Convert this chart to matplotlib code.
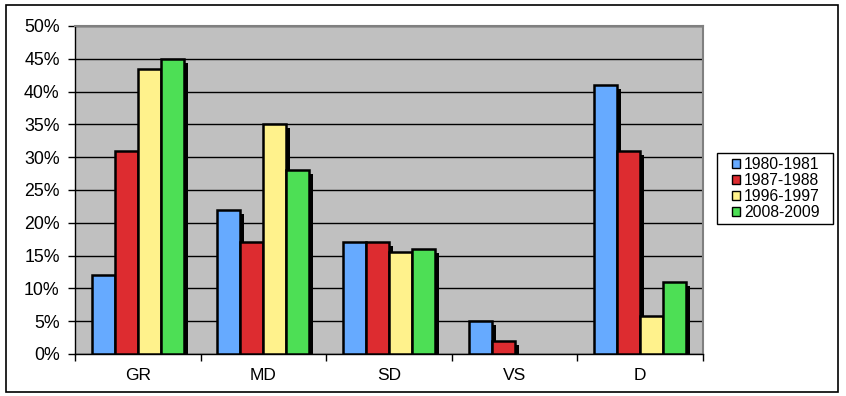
import matplotlib
matplotlib.use("Agg")
import matplotlib.pyplot as plt
from matplotlib.patches import Rectangle
import numpy as np

plt.rcParams['font.family'] = ['Liberation Sans', 'DejaVu Sans']

# data (percent)
categories = ['GR', 'MD', 'SD', 'VS', 'D']
periods = ['1980-1981', '1987-1988', '1996-1997', '2008-2009']
v_1980 = [12, 22, 17, 5, 41]
v_1987 = [31, 17, 17, 2, 31]
v_1996 = [43.5, 35, 15.5, 0, 5.8]
v_2008 = [45, 28, 16, 0, 11]
series = [v_1980, v_1987, v_1996, v_2008]
colors = ['#66aaff', '#dd2c30', '#fff28c', '#4ddf55']

fig = plt.figure(figsize=(8.46, 3.96), dpi=100)
ax = fig.add_axes([75/846, 42/396, 628/846, 328/396])
ax.set_facecolor('#c0c0c0')

x = np.arange(len(categories))
w = 0.183
dx, dy = 0.032, 0.6  # shadow offset

for k, (vals, col) in enumerate(zip(series, colors)):
    pos = x + (k - 1.5) * w
    for p, v in zip(pos, vals):
        if v <= 0:
            continue
        # drop shadow first, then the bar on top
        ax.bar(p + dx, max(v - dy, 0), width=w, color='black', zorder=2)
        ax.bar(p, v, width=w, color=col, edgecolor='black', linewidth=1.8, zorder=3)

ax.set_xlim(-0.5, len(categories) - 0.5)
ax.set_ylim(0, 50)
ax.set_yticks(np.arange(0, 51, 5))
ax.set_yticklabels([f'{t}%' for t in range(0, 51, 5)], fontsize=12.8)
ax.yaxis.grid(True, color='black', linewidth=1)
ax.set_axisbelow(True)

ax.set_xticks(x)
ax.set_xticklabels(categories, fontsize=12.5)
ax.set_xticks(np.arange(-0.5, len(categories), 1), minor=True)
ax.tick_params(axis='x', which='major', length=0, pad=10)
ax.tick_params(axis='x', which='minor', length=5, direction='out', width=1)
ax.tick_params(axis='y', length=5, direction='out', width=1, pad=6)

for s in ['top', 'right']:
    ax.spines[s].set_color('#808080')
    ax.spines[s].set_linewidth(1.5)
for s in ['left', 'bottom']:
    ax.spines[s].set_color('black')
    ax.spines[s].set_linewidth(1)

# legend: entries without frame, box drawn separately (wide side padding)
handles = [Rectangle((0, 0), 1, 1, facecolor=c, edgecolor='black', linewidth=1) for c in colors]
leg = fig.legend(handles, periods, loc='center', bbox_to_anchor=(776/846, 1 - 188.5/396),
                 fontsize=11.3, frameon=False, handlelength=0.5, handleheight=0.5,
                 handletextpad=0.25, labelspacing=0.08, borderpad=0, borderaxespad=0)
fig.patches.append(Rectangle((717/846, 172/396), 116/846, 71/396, transform=fig.transFigure,
                             fill=False, edgecolor='black', linewidth=1))

# outer chart border
fig.patches.append(Rectangle((6/846, 4/396), 832/846, 387/396, transform=fig.transFigure,
                             fill=False, edgecolor='black', linewidth=1.2))

fig.savefig('out.png', dpi=100)
